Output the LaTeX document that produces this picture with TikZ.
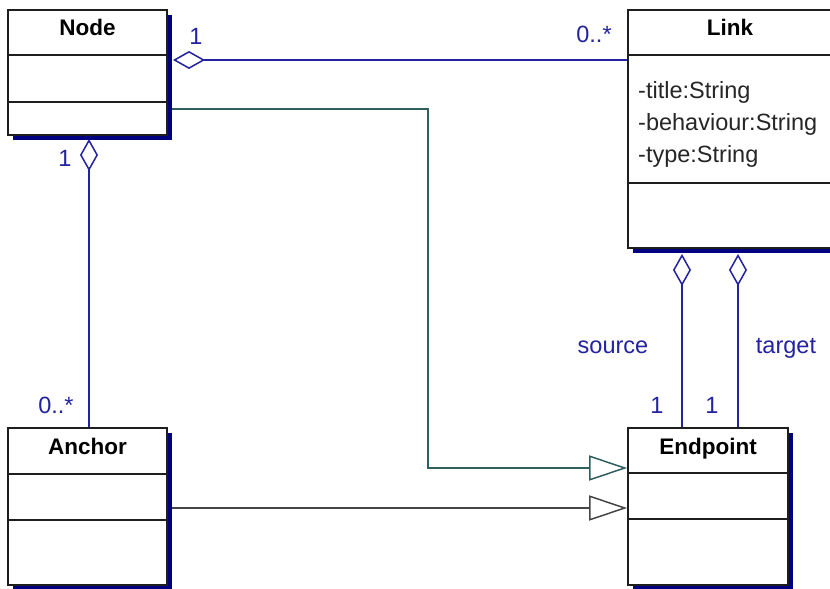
\documentclass[tikz,border=0pt]{standalone}
\usepackage{fontspec}
\setmainfont{Liberation Sans}
\usetikzlibrary{arrows.meta,shadows}
\definecolor{assoc}{RGB}{35,35,160}
\definecolor{shadowblue}{RGB}{0,0,128}
\definecolor{gentea}{RGB}{47,95,95}
\definecolor{gengray}{RGB}{70,70,70}
\definecolor{boxline}{RGB}{30,30,30}
\begin{document}
\begin{tikzpicture}[x=1bp,y=-1bp,
  classbox/.style={draw=boxline, line width=1.6bp, fill=white, inner sep=0pt,
    drop shadow={shadow xshift=5bp, shadow yshift=-5bp, fill=shadowblue, opacity=1}},
  sepline/.style={draw=boxline, line width=1.6bp},
  titletext/.style={font=\fontsize{22.5bp}{26bp}\selectfont\bfseries, text=black, inner sep=0pt, anchor=base},
  attrtext/.style={font=\fontsize{23.5bp}{28bp}\selectfont, text=black!85, inner sep=0pt, anchor=base west},
  multlabel/.style={font=\fontsize{23.5bp}{28bp}\selectfont, text=assoc, inner sep=0pt, anchor=base},
  aggline/.style={draw=assoc, line width=1.5bp, -{Diamond[open, length=32bp, width=18bp, fill=white]}},
  genline/.style={line width=1.5bp, -{Triangle[open, length=38bp, width=25bp, fill=white]}}
]
\useasboundingbox (0,0) rectangle (830,589);
\fill[white] (0,0) rectangle (830,589);
\clip (0,0) rectangle (830,589);

% class boxes
\node[classbox, minimum width=159bp, minimum height=125bp] (nodeBox) at (87.5,72.5) {};
\node[classbox, minimum width=159bp, minimum height=157bp] (anchorBox) at (87.5,506.5) {};
\node[classbox, minimum width=204bp, minimum height=238bp] (linkBox) at (730,129) {};
\node[classbox, minimum width=160bp, minimum height=157bp] (endBox) at (708,506.5) {};

% compartments
\draw[sepline] (nodeBox.west |- 0,55) -- (nodeBox.east |- 0,55);
\draw[sepline] (nodeBox.west |- 0,102) -- (nodeBox.east |- 0,102);
\draw[sepline] (anchorBox.west |- 0,474) -- (anchorBox.east |- 0,474);
\draw[sepline] (anchorBox.west |- 0,520) -- (anchorBox.east |- 0,520);
\draw[sepline] (linkBox.west |- 0,55) -- (linkBox.east |- 0,55);
\draw[sepline] (linkBox.west |- 0,183) -- (linkBox.east |- 0,183);
\draw[sepline] (endBox.west |- 0,473) -- (endBox.east |- 0,473);
\draw[sepline] (endBox.west |- 0,519) -- (endBox.east |- 0,519);

% titles
\node[titletext] (nodeT) at (87.5,36) {Node};
\node[titletext] (linkT) at (730,36) {Link};
\node[titletext] (anchorT) at (87.5,454) {Anchor};
\node[titletext] (endT) at (708,454) {Endpoint};

% attributes
\node[attrtext] (at1) at (638,99) {-title:String};
\node[attrtext] (at2) at (638,131) {-behaviour:String};
\node[attrtext] (at3) at (638,163) {-type:String};

% aggregations
\draw[aggline] (linkBox.west |- 0,60) -- (173,60) coordinate (nodeAggEnd);
\draw[aggline] (anchorBox.north -| 89,0) -- (89,139) coordinate (nodeAggEnd2);
\draw[aggline] (endBox.north -| 682,0) -- (682,254) coordinate (linkAggS);
\draw[aggline] (endBox.north -| 738,0) -- (738,254) coordinate (linkAggT);

% generalizations
\coordinate (genStart1) at (172,109);
\draw[genline, draw=gentea] (genStart1) -- (428,109) -- (428,468) -- (endBox.west |- 0,468);
\coordinate (genStart2) at (172,508);
\draw[genline, draw=gengray] (genStart2) -- (endBox.west |- 0,508);

% multiplicities / roles
\node[multlabel] (m1) at (196,45) {1};
\node[multlabel] (m2) at (594,43) {0..*};
\node[multlabel] (m3) at (65,167) {1};
\node[multlabel] (m4) at (56,413) {0..*};
\node[multlabel] (r1) at (613,353) {source};
\node[multlabel] (r2) at (786,353) {target};
\node[multlabel] (m5) at (657,413) {1};
\node[multlabel] (m6) at (712,413) {1};
\end{tikzpicture}
\end{document}
